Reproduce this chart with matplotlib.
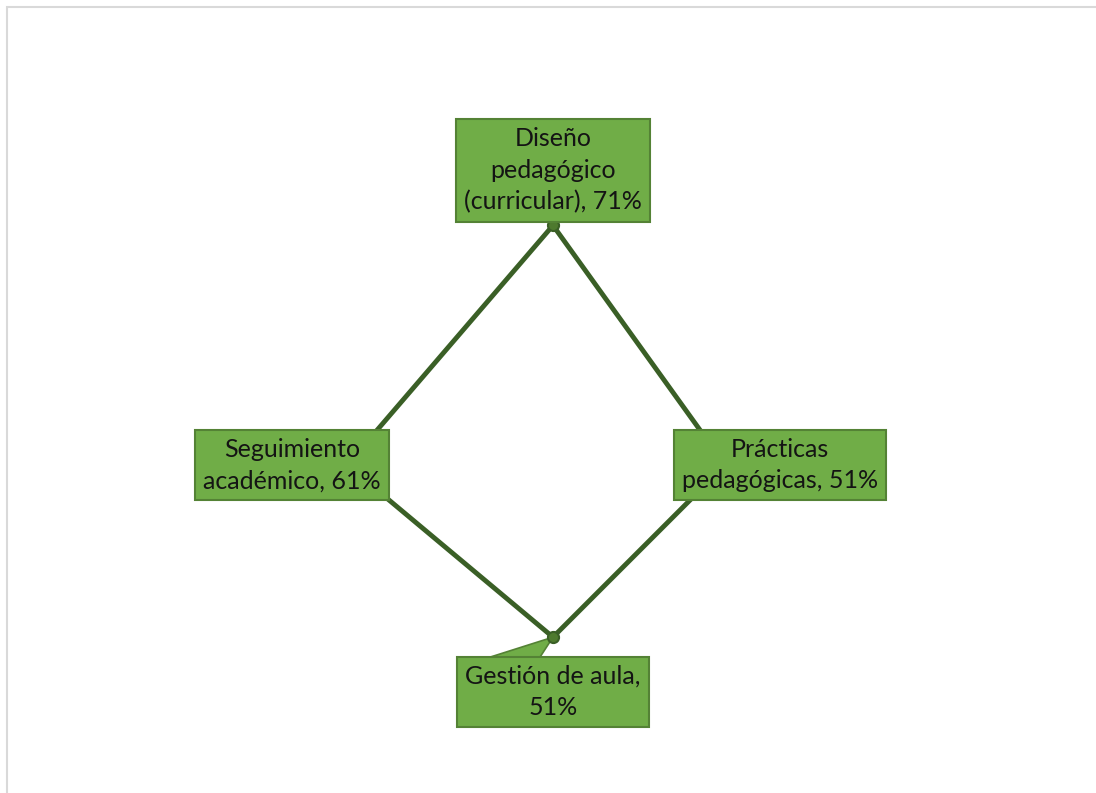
import numpy as np
import matplotlib.pyplot as plt
from matplotlib.patches import Rectangle, Polygon
from matplotlib.transforms import IdentityTransform

categorias = ["Diseño\npedagógico\n(curricular)", "Prácticas\npedagógicas",
              "Gestión de aula", "Seguimiento\nacadémico"]
valores = [71, 51, 51, 61]
etiquetas = ["Diseño\npedagógico\n(curricular), 71%", "Prácticas\npedagógicas, 51%",
             "Gestión de aula,\n51%", "Seguimiento\nacadémico, 61%"]

plt.rcParams['font.family'] = ['Lato', 'DejaVu Sans']

fig = plt.figure(figsize=(10.96, 7.93), dpi=100)
ax = fig.add_axes([0.2582, 0.0731, 0.4927, 0.681], projection='polar')
ax.set_theta_offset(np.pi / 2)
ax.set_theta_direction(-1)
ax.set_ylim(0, 80)
ax.axis('off')

verde = '#70AD47'
borde = '#548235'
linea = '#3A5F26'

ang = np.linspace(0, 2 * np.pi, len(valores), endpoint=False)
ax.plot(np.append(ang, ang[0]), valores + valores[:1], color=linea, lw=3.5,
        solid_capstyle='round', zorder=2)
ax.plot(ang, valores, ls='none', marker='o', ms=8, mfc='#4E7A2E', mec=linea,
        mew=1.5, zorder=4)

# globo de la etiqueta inferior apuntando al punto
px, py = ax.transData.transform((ang[2], valores[2]))
ax.add_patch(Polygon([(px, py), (px - 63, py - 20), (px - 13, py - 20)],
                     closed=True, transform=IdentityTransform(),
                     fc=verde, ec=borde, lw=1.2, zorder=3))

offs = [(0, 55), (55, 0), (0, -55), (-55, 0)]
for a, v, t, o in zip(ang, valores, etiquetas, offs):
    ax.annotate(t, xy=(a, v), xytext=o, textcoords='offset pixels',
                ha='center', va='center', fontsize=18, color='#141414',
                linespacing=1.45, zorder=5,
                bbox=dict(boxstyle='square,pad=0.32', fc=verde, ec=borde, lw=1.5))

# marco gris del gráfico
fig.patches.append(Rectangle((7 / 1096, -0.05), 1.1, 1 - 7 / 793 + 0.05,
                             transform=fig.transFigure, fill=False,
                             ec='#D9D9D9', lw=1.5))

fig.savefig('out.png', dpi=100)
